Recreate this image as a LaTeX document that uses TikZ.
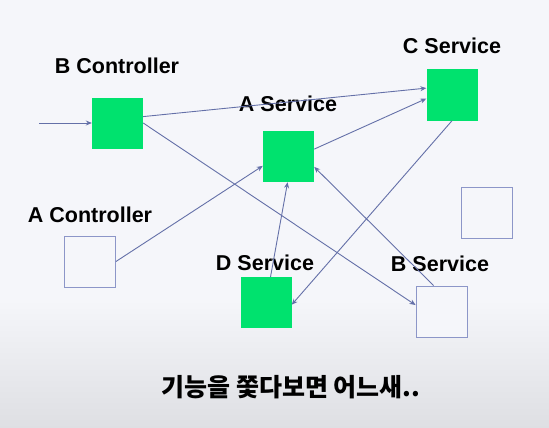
\documentclass[tikz,border=0pt]{standalone}
\usepackage{fontspec}
\setmainfont{Liberation Sans}
\newfontfamily\kor{Noto Sans CJK KR}
\usetikzlibrary{arrows.meta}
\definecolor{bgtop}{RGB}{245,246,250}
\definecolor{bgbot}{RGB}{222,223,227}
\definecolor{gbox}{RGB}{0,226,110}
\definecolor{edge}{RGB}{100,112,168}
\definecolor{ebox}{RGB}{140,150,200}
\tikzset{
  full/.style={rectangle, fill=gbox, minimum size=51pt, inner sep=0pt},
  empty/.style={rectangle, draw=ebox, line width=0.9pt, fill=bgtop, minimum size=51pt, inner sep=0pt},
  lbl/.style={font=\bfseries\fontsize{21.5}{25}\selectfont, text=black, inner sep=0pt},
  conn/.style={draw=edge, line width=0.9pt, -{Stealth[length=6pt,width=5pt]}}
}
\begin{document}
\begin{tikzpicture}[x=1pt,y=-1pt]
\fill[bgtop] (0,0) rectangle (549,428);
\shade[top color=bgtop, bottom color=bgbot] (0,300) rectangle (549,428);
\useasboundingbox (0,0) rectangle (549,428);

\node[full] (bc) at (117.5,123) {};
\node[full] (as) at (288.5,156.5) {};
\node[full] (cs) at (452,95) {};
\node[full] (ds) at (266,302.5) {};
\node[empty] (ac) at (90,261.5) {};
\node[empty] (bs) at (441.5,311.5) {};
\node[empty] (xx) at (487,213) {};

\node[lbl] (bcl) at (117,66) {B Controller};
\node[lbl] (asl) at (288,104) {A Service};
\node[lbl] (csl) at (452,46) {C Service};
\node[lbl] (acl) at (90,215) {A Controller};
\node[lbl] (dsl) at (265,263) {D Service};
\node[lbl] (bsl) at (440,264) {B Service};

\coordinate (in) at (39,123);
\draw[conn] (in) -- (bc.west);
\draw[conn] (bc.14) -- (cs.165);
\draw[conn] (as.16) -- (cs.188);
\draw[conn] (bc.east) -- (bs.166);
\draw[conn] (ac.east) -- (as.200);
\draw[conn] (ds.80) -- (as.-92);
\draw[conn] (cs.south) -- (ds.-5);
\draw[conn] (bs.107) -- (as.-22);

\node[font=\kor\bfseries\fontsize{25}{29}\selectfont, inner sep=0pt] (cap) at (291,387) {기능을 쫓다보면 어느새..};
\end{tikzpicture}
\end{document}
